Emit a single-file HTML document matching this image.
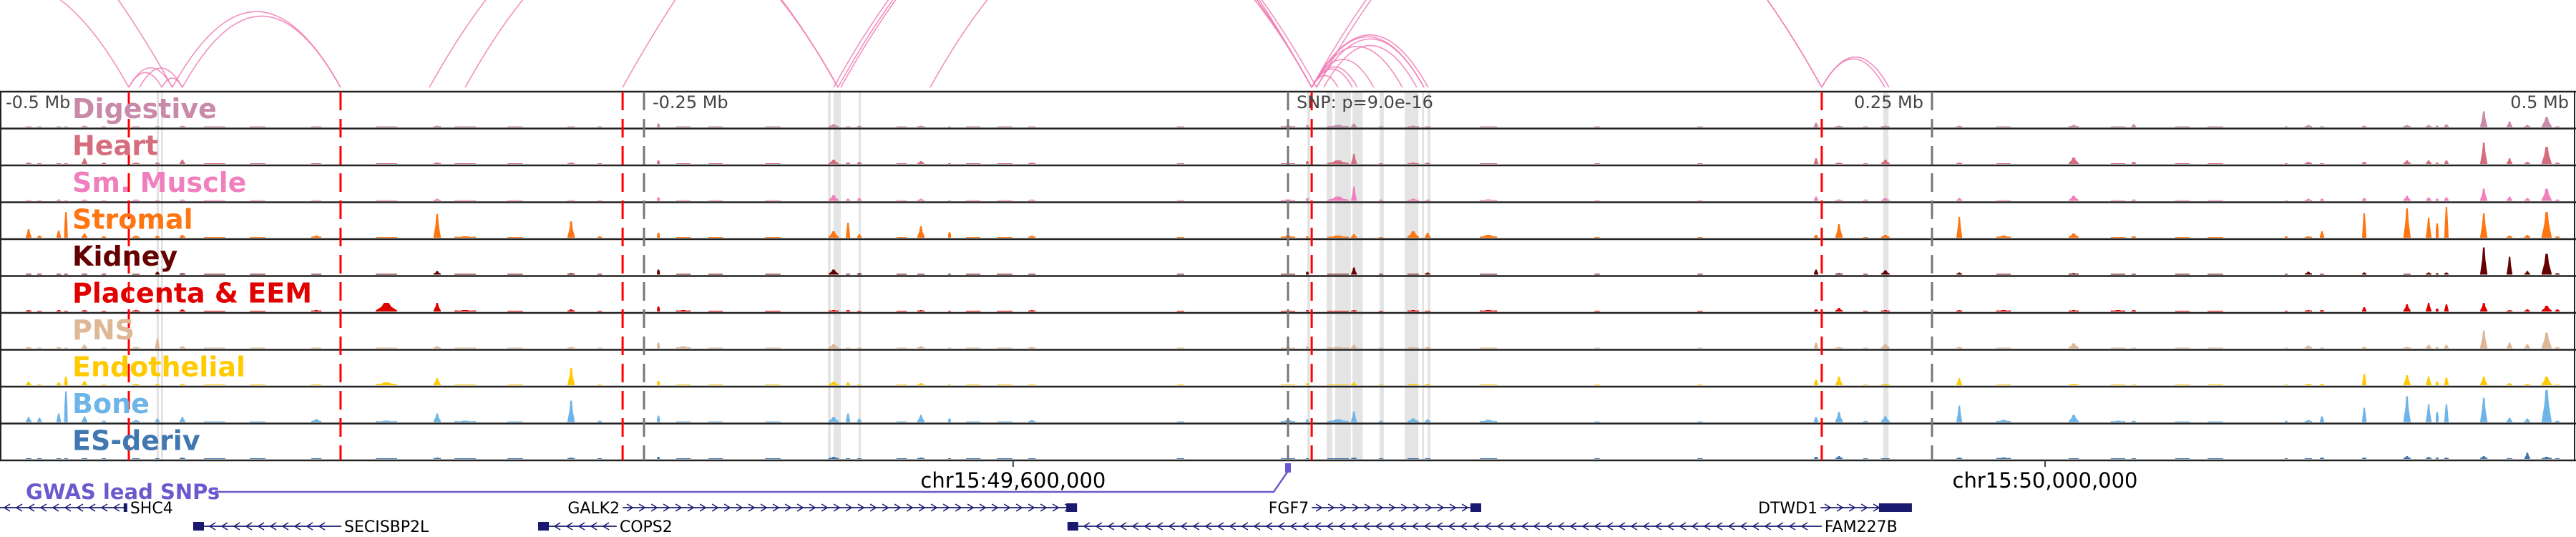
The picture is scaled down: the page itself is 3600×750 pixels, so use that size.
<!DOCTYPE html>
<html><head><meta charset="utf-8"><style>
html,body{margin:0;padding:0;background:#fff;}
svg{display:block;font-family:"DejaVu Sans","Liberation Sans",sans-serif;}
</style></head><body>
<svg id="chart" width="3600" height="750" viewBox="0 0 3600 750" xmlns="http://www.w3.org/2000/svg">
<g id="bands"></g>
<g id="arcs"></g>
<g id="tracks"></g>
<g id="vlines"></g>
<g id="labels"></g>
<g id="genes"></g>
</svg>
<script>
const tissues = ["Digestive","Heart","Sm. Muscle","Stromal","Kidney","Placenta & EEM","PNS","Endothelial","Bone","ES-deriv"];
const tissueColors = ["#c98aa9","#d66d7e","#f080bd","#ff7512","#640000","#e00000","#deb795","#ffcb00","#6db4e8","#4177b0"];
const regionKb = [-488.9,-484.7,-477.2,-474.4,-467.2,-459.7,-447.2,-438.9,-429.2,-416.7,-377.2,-350,-330.3,-319.4,-278.3,-267.2,-244.4,-234.7,-222.2,-176.4,-170.8,-166.4,-142.5,-131.4,-122.2,-99.4,-41.7,0,7.5,19.4,25.6,36.1,48.6,54.2,77.8,205,213.9,224.2,231.9,260.6,277.8,305,322.2,328.3,347.2,387.5,396.1,401.4,417.8,434.4,442.8,446.1,449.7,464.2,474.2,481.1,488.6,492.8,-400,-300,-200,-150,-110,120,160,360];
const regionWidthKb = [2.2,1.7,1.7,1.4,2.2,1.7,2.8,1.7,2.2,8.3,3.9,8.3,2.8,8.3,2.8,1.7,1.1,5.6,5.6,3.9,1.7,1.7,2.8,1.1,5.6,2.8,2.8,5.6,1.1,8.3,2.2,1.7,4.4,2.2,6.7,1.7,2.8,1.7,3.3,2.2,5.6,3.9,5.6,1.7,5.6,1.1,2.8,1.7,1.7,2.8,2.2,1.1,1.7,2.8,2.2,2.2,3.9,1.7,6,6,6,4,6,2,2,6];
const regionHeights = [
[1,2,1,12,1,2,2,5,7,1],[1,1,1,3,1,1,1,1,6,1],[1,1,2,10,1,2,2,4,12,1],[1,1,1,36,1,1,1,12,43,1],
[2,8,2,6,1,2,5,6,8,1],[1,2,1,2,1,1,1,1,2,1],[1,2,2,3,1,2,2,2,3,1],[1,2,1,3,4,3,14,2,5,1],
[2,6,2,4,2,3,3,2,7,2],[1,1,1,1,1,1,1,1,1,1],[1,1,1,3,1,2,1,1,4,1],[1,1,1,1,1,12,1,4,2,1],
[2,2,3,33,5,12,3,10,12,2],[1,1,1,2,1,2,1,1,2,1],[1,2,1,23,2,3,2,24,30,2],[1,1,1,2,1,1,1,1,2,1],
[5,5,5,7,7,7,8,6,9,3],[1,1,1,1,1,2,3,1,1,1],[1,1,1,1,1,1,1,1,1,1],[4,6,8,9,7,2,6,5,7,3],
[1,2,3,21,1,2,1,4,12,1],[2,3,4,5,2,1,1,1,5,1],[2,4,3,16,1,2,3,3,10,2],[1,1,1,8,1,1,1,1,5,1],
[1,1,1,1,1,1,1,1,1,1],[1,2,2,3,1,2,2,1,3,1],[1,1,1,1,1,1,1,1,1,1],[2,1,2,3,1,1,1,1,3,1],
[3,4,4,2,4,2,3,3,4,1],[3,5,6,3,1,1,2,1,4,1],[5,14,20,5,10,2,5,4,15,2],[1,1,2,1,1,1,1,1,2,1],
[2,2,3,9,1,2,2,2,5,1],[1,2,2,7,3,1,2,2,4,1],[1,1,2,4,1,2,1,1,3,1],[6,8,6,4,7,3,8,8,7,3],
[2,2,2,19,2,5,2,12,14,4],[1,1,2,1,1,1,1,1,2,1],[2,6,4,4,6,2,6,2,8,1],[2,2,4,29,3,2,2,10,23,2],
[1,1,1,3,1,2,1,1,3,2],[3,9,7,6,2,2,7,2,10,1],[1,1,1,1,1,2,1,1,2,1],[4,3,2,2,1,2,1,1,2,1],
[1,1,1,1,1,1,1,1,1,1],[1,1,1,2,1,1,1,1,2,1],[3,3,3,2,4,2,4,2,3,1],[1,1,3,9,1,2,1,2,8,2],
[2,3,4,34,3,6,2,16,20,2],[3,5,7,41,1,10,2,14,36,4],[3,5,5,28,3,12,5,12,25,3],[2,2,3,20,2,4,2,5,14,2],
[4,5,5,43,3,10,5,11,25,2],[22,30,17,34,38,12,25,12,34,4],[8,8,6,3,25,2,8,3,6,1],[3,3,4,4,5,3,6,2,5,9],
[14,24,17,36,29,8,22,12,45,3],[1,2,2,2,2,3,2,1,2,1],
[1,1,1,1,1,1,1,1,1,1],[1,1,1,1,1,1,1,1,1,1],[1,1,1,1,1,1,1,1,1,1],[1,1,1,1,1,1,1,1,1,1],
[1,1,1,1,1,1,1,1,1,1],[1,1,1,1,1,1,1,1,1,1],[1,1,1,1,1,1,1,1,1,1],[1,1,1,1,1,1,1,1,1,1]];
const arcStartKb = [-450,-450,-445.8,-437.2,-429.2,-433.1,-541.7,-638.9,-258.3,-333.3,-319.4,-174.7,-176.4,-173.6,-138.9,9.2,9.2,9.2,9.2,9.2,9.2,9.2,11.1,13.9,9.2,11.1,207.2,207.2];
const arcEndKb   = [-433.1,-437.2,-429.2,-429.2,-367.8,-367.8,-450,-433.1,9.2,-174.7,-174.7,9.2,9.2,11.1,9.2,19.4,25,26.9,33.3,44.4,52.8,54.4,52.8,50,207.2,207.2,231.7,233.3];
const redLinesKb = [-450,-367.8,-258.3,9.2,207.2];
const grayLinesKb = [-250,0,250];
const bandStartKb = [-439.2,-437.5,-178.6,-176.4,-166.7,7.5,15,18.3,25,35.6,45.3,52,54.2,231.1];
const bandEndKb   = [-438.3,-436.7,-177.5,-173.6,-165.8,8.6,17.2,24.4,29,37.2,50.6,52.8,55.3,233.1];
const geneNames = ["SHC4","GALK2","FGF7","DTWD1","SECISBP2L","COPS2","FAM227B"];
const geneStartKb = [-500,-258.3,9.2,206.7,-425,-291.1,-85.6];
const geneEndKb = [-450.6,-81.9,75,242.2,-367.5,-260.6,207.2];
const geneStrand = [-1,1,1,1,-1,-1,-1];
const geneRow = [0,0,0,0,1,1,1];
const axisLabels = ["-0.5 Mb","-0.25 Mb","SNP: p=9.0e-16","0.25 Mb","0.5 Mb"];
const axisLabelKb = [-500,-250,0,250,500];
const chromTickKb = [-106.7,293.9];
const chromTickLabels = ["chr15:49,600,000","chr15:50,000,000"];
const snpKb = [0];

const NS="http://www.w3.org/2000/svg";
const X0=0, X1=3600, TOP=128, TH=51.5, BOTTOM=TOP+10*TH, ARCBASE=122;
const x = kb => X0 + (kb+500)/1000*(X1-X0);
const w = kb => kb/1000*(X1-X0);
function mk(tag, parent, attrs){const e=document.createElementNS(NS,tag);for(const k in attrs)e.setAttribute(k,attrs[k]);parent.appendChild(e);return e;}
const gB=document.getElementById('bands'),gA=document.getElementById('arcs'),gT=document.getElementById('tracks'),gV=document.getElementById('vlines'),gL=document.getElementById('labels'),gG=document.getElementById('genes');

bandStartKb.forEach((s,i)=>{
  const r=mk('rect',gB,{x:x(s),y:TOP,width:Math.max(2,x(bandEndKb[i])-x(s)),height:BOTTOM-TOP,fill:'#e4e4e4'});
  
  
});

arcStartKb.forEach((s,i)=>{
  const a=x(s), b=x(arcEndKb[i]), span=b-a, c=(a+b)/2;
  const p=mk('path',gA,{d:`M${a},${ARCBASE} Q${c},${ARCBASE-0.9*span} ${b},${ARCBASE}`,fill:'none',stroke:'#f07db5','stroke-width':1.6,'stroke-opacity':0.85});
  
  
});

tissues.forEach((t,ti)=>{
  const top=TOP+ti*TH, base=top+TH-2;
  const g=mk('g',gT,{});
  
  
  regionKb.forEach((kb,ri)=>{
    const h=regionHeights[ri][ti], xc=x(kb), hw=Math.max(2,w(regionWidthKb[ri])/2);
    const tw=Math.max(2,hw*0.45);
    const pts = h<=1.5 ? `${xc-hw},${base} ${xc-hw},${base-h} ${xc+hw},${base-h} ${xc+hw},${base}`
      : `${xc-hw},${base} ${xc-hw},${base-1.5} ${xc-tw},${base-h*0.55} ${xc-tw*0.5},${base-h} ${xc+tw*0.5},${base-h} ${xc+tw},${base-h*0.55} ${xc+hw},${base-1.5} ${xc+hw},${base}`;
    const p=mk('polygon',g,{points:pts,fill:tissueColors[ti]});
    
    
  });
  const ln=mk('line',gT,{x1:0,x2:3600,y1:top+TH,y2:top+TH,stroke:'#222','stroke-width':2.5});
  
  
});
mk('line',gT,{x1:0,x2:3600,y1:TOP,y2:TOP,stroke:'#222','stroke-width':2.5});
mk('line',gT,{x1:1,x2:1,y1:TOP,y2:BOTTOM,stroke:'#222','stroke-width':2});
mk('line',gT,{x1:3598,x2:3598,y1:TOP,y2:BOTTOM,stroke:'#222','stroke-width':2});

grayLinesKb.forEach(kb=>{
  const l=mk('line',gV,{x1:x(kb),x2:x(kb),y1:TOP,y2:BOTTOM,stroke:'#777','stroke-width':3,'stroke-dasharray':'26,12'});
  
  
});
redLinesKb.forEach(kb=>{
  const l=mk('line',gV,{x1:x(kb),x2:x(kb),y1:TOP,y2:BOTTOM,stroke:'#ff0000','stroke-width':3,'stroke-dasharray':'26,12'});
  
  
});

axisLabels.forEach((s,i)=>{
  const kb=axisLabelKb[i];
  let ax=x(kb)+12, anchor='start';
  if(i===0) ax=8;
  if(i===3){ax=x(kb)-12;anchor='end';}
  if(i===4){ax=3590;anchor='end';}
  const t=mk('text',gL,{x:ax,y:151,'font-size':24,fill:'#444','text-anchor':anchor});
  t.textContent=s;
  
  
});
tissues.forEach((s,i)=>{
  const t=mk('text',gL,{x:101,y:TOP+i*TH+37,'font-size':38,'font-weight':'bold',fill:tissueColors[i]});
  t.textContent=s;
  
  
});

chromTickKb.forEach((kb,i)=>{
  mk('line',gG,{x1:x(kb),x2:x(kb),y1:BOTTOM,y2:BOTTOM+9,stroke:'#444','stroke-width':2});
  const t=mk('text',gG,{x:x(kb),y:681,'font-size':29,'text-anchor':'middle',fill:'#000'});
  t.textContent=chromTickLabels[i];
  
  
});

const sx=x(snpKb[0]);
const gw=mk('polyline',gG,{points:`300,687 ${sx-20},687 ${sx},658`,fill:'none',stroke:'#6a5acd','stroke-width':2.5});


const sb=mk('rect',gG,{x:sx-4,y:647,width:8,height:13,fill:'#6a5acd'});


const gl=mk('text',gG,{x:36,y:697,'font-size':29,'font-weight':'bold',fill:'#6a5acd'});
gl.textContent='GWAS lead SNPs';



geneNames.forEach((n,i)=>{
  const a=x(geneStartKb[i]), b=x(geneEndKb[i]), y=geneRow[i]===0?709:735, sd=geneStrand[i];
  const g=mk('g',gG,{});
  
  
  mk('line',g,{x1:a,x2:b,y1:y,y2:y,stroke:'#191970','stroke-width':1.8});
  for(let cx=a+10; cx<b-12; cx+=17){
    const d= sd>0 ? `M${cx-4},${y-5} L${cx+4},${y} L${cx-4},${y+5}` : `M${cx+4},${y-5} L${cx-4},${y} L${cx+4},${y+5}`;
    mk('path',g,{d:d,fill:'none',stroke:'#191970','stroke-width':1.5});
  }
  if(sd>0){ mk('rect',g,{x:b-(n==='DTWD1'?46:15),y:y-6,width:(n==='DTWD1'?46:15),height:12,fill:'#191970'}); }
  else if(n==='SHC4'){ mk('rect',g,{x:b-5,y:y-6,width:5,height:12,fill:'#191970'}); }
  else { mk('rect',g,{x:a,y:y-6,width:15,height:12,fill:'#191970'}); }
  const t=mk('text',g,{x: sd>0 ? a-4 : b+4, y:y+8,'font-size':22,fill:'#000','text-anchor': sd>0?'end':'start'});
  t.textContent=n;
  
  
});
</script>
</body></html>
